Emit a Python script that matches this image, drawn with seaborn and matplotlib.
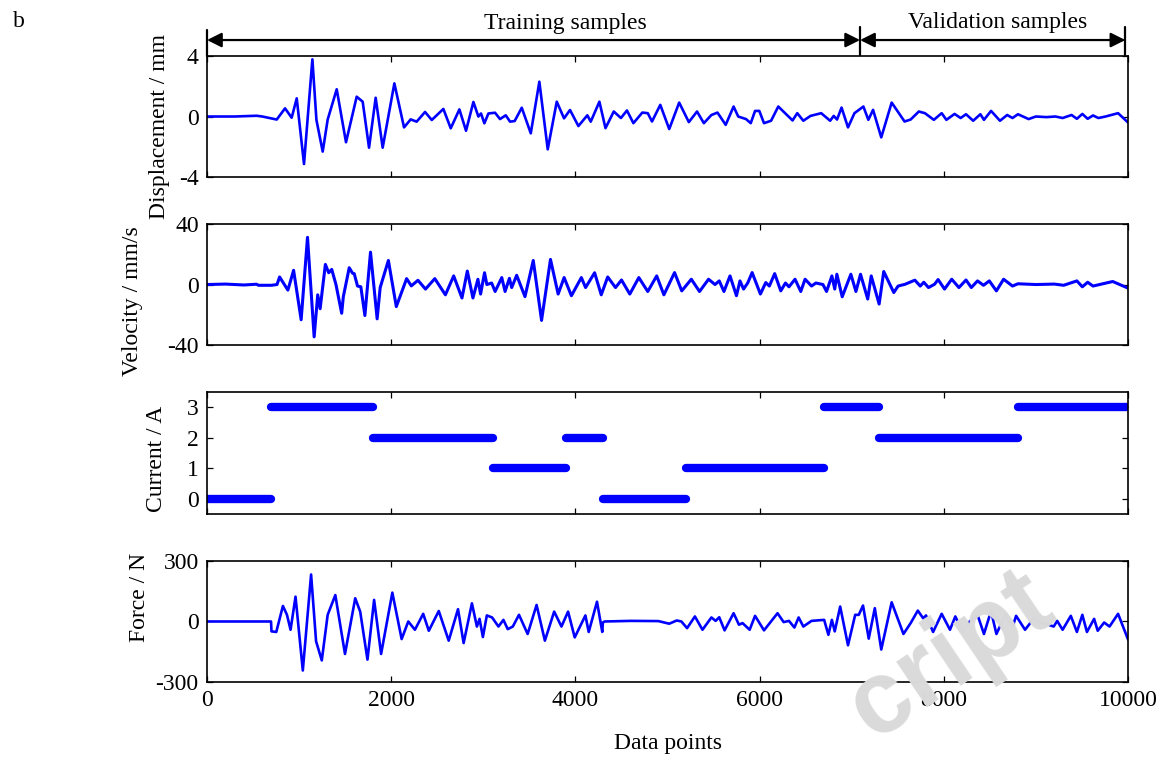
import matplotlib
matplotlib.use("Agg")
import matplotlib.pyplot as plt
import seaborn as sns
import numpy as np

# ---------------- data ----------------
disp_pts = [(0, 0), (300, 0.0), (540, 0.05), (600, 0.0), (757, -0.2), (847, 0.54), (919, -0.08),
            (974, 1.2), (1053, -3.14), (1144, 3.78), (1188, -0.23), (1256, -2.32), (1310, -0.2),
            (1408, 1.8), (1509, -1.7), (1625, 1.31), (1690, 0.98), (1759, -2.06), (1831, 1.24),
            (1907, -2.06), (2034, 2.19), (2139, -0.72), (2211, -0.19), (2276, -0.34), (2367, 0.3),
            (2440, -0.23), (2566, 0.5), (2646, -0.78), (2740, 0.47), (2812, -0.94), (2892, 0.96),
            (2946, 0.0), (2975, 0.2), (3011, -0.45), (3055, 0.2), (3127, 0.25), (3181, -0.17),
            (3243, 0.08), (3290, -0.34), (3340, -0.3), (3417, 0.58), (3515, -1.11), (3608, 2.3),
            (3699, -2.17), (3797, 0.98), (3876, -0.12), (3941, 0.43), (4032, -0.63), (4129, 0.08),
            (4166, -0.34), (4260, 0.98), (4326, -0.77), (4416, 0.33), (4494, -0.1), (4559, 0.4),
            (4629, -0.44), (4726, 0.26), (4785, 0.22), (4831, -0.33), (4921, 0.77), (5018, -0.83),
            (5126, 0.92), (5231, -0.37), (5320, 0.33), (5394, -0.44), (5476, 0.1), (5542, 0.26),
            (5631, -0.55), (5717, 0.66), (5767, 0.0), (5852, -0.17), (5903, -0.44), (5950, 0.37),
            (5996, 0.37), (6047, -0.44), (6124, -0.28), (6202, 0.66), (6357, -0.26), (6408, 0.22),
            (6474, -0.28), (6552, 0.04), (6668, 0.22), (6765, -0.28), (6804, 0.04), (6840, -0.2),
            (6889, 0.59), (6959, -0.72), (7029, 0.22), (7126, 0.66), (7180, -0.22), (7231, 0.44),
            (7320, -1.38), (7433, 0.92), (7573, -0.33), (7639, -0.2), (7728, 0.33), (7794, 0.22),
            (7891, -0.22), (7976, 0.22), (8027, -0.22), (8116, 0.17), (8182, -0.1), (8240, 0.15),
            (8318, -0.28), (8396, 0.15), (8435, -0.22), (8512, 0.37), (8609, -0.28), (8687, 0.1),
            (8745, -0.1), (8804, 0.15), (8920, -0.17), (8998, 0.0), (9114, -0.04), (9211, 0.0),
            (9289, -0.1), (9386, 0.1), (9444, -0.15), (9503, 0.17), (9561, -0.15), (9619, 0.07),
            (9677, -0.1), (9755, 0.0), (9891, 0.22), (10000, -0.4)]

vel_pts = [(0, 0), (200, 0.3), (400, -0.3), (536, 0.2), (560, -0.5), (700, -0.5), (760, 0),
           (788, 5.0), (878, -3.7), (940, 9.4), (1022, -23.3), (1091, 31.2), (1163, -34.6),
           (1202, -6.8), (1228, -16), (1285, 13.3), (1321, 7.8), (1354, 10), (1400, 0), (1462, -19),
           (1480, -8), (1544, 11.1), (1580, 7.5), (1598, 7.2), (1634, -1), (1670, -1.5), (1714, -20.5),
           (1775, 21.4), (1847, -22.7), (1880, -2), (1969, 15.9), (2055, -14.6), (2167, 3.9),
           (2218, -0.9), (2290, 2.8), (2372, -3), (2473, 3.9), (2588, -6.8), (2678, 5.7), (2768, -8.9),
           (2826, 8.9), (2887, -8.9), (2941, 3.5), (2970, -6.3), (3013, 7.8), (3038, 0), (3090, 1),
           (3128, -4.6), (3200, 4.6), (3236, -4.6), (3283, 4.1), (3308, -2), (3362, 6.1), (3452, -8),
           (3542, 15.9), (3632, -23.7), (3729, 16.6), (3812, -6.3), (3877, 4.6), (3956, -7.4),
           (4064, 4.6), (4110, -2), (4208, 7.8), (4280, -6.8), (4350, 5), (4435, -2), (4500, 3),
           (4590, -6.3), (4688, 4.6), (4785, -4.6), (4882, 5.7), (4960, -6.8), (5076, 7.9),
           (5154, -4.2), (5258, 3.5), (5347, -4.6), (5445, 3.5), (5515, 0), (5561, 2.4), (5612, -4.6),
           (5678, 5.7), (5748, -7.4), (5786, 2.4), (5825, -3), (5870, 1), (5918, 7.9), (6008, -6.3),
           (6066, 1.3), (6105, -1), (6163, 7.2), (6229, -4.2), (6280, 1), (6318, -1.5), (6384, 3.5),
           (6446, -4.6), (6493, 3.5), (6563, -1), (6610, 1), (6687, 0), (6726, -4.6), (6784, 5.7),
           (6815, -3), (6838, 6.8), (6896, -8.1), (6990, 6.8), (7045, -4.6), (7095, 6.8), (7173, -9.6),
           (7211, 5.7), (7297, -12.9), (7347, 8.6), (7456, -5.3), (7503, -1), (7580, 0.2), (7685, 2.9),
           (7743, -1), (7782, 1.5), (7833, -2), (7899, 0.2), (7937, 3.3), (8007, -3), (8085, 3.5),
           (8163, -2), (8240, 3), (8298, -2), (8365, 2.4), (8430, -0.5), (8493, 2.4), (8570, -4.2),
           (8648, 3.5), (8745, -1), (8804, 0.5), (9000, 0), (9200, 0.3), (9300, -0.5), (9444, 2.4),
           (9503, -1.5), (9561, 1.5), (9619, -1), (9833, 2), (10000, -2.4)]

cur_start = [0, 700, 1800, 3100, 3900, 4300, 5200, 6700, 7300, 8800]
cur_end = [700, 1800, 3100, 3900, 4300, 5200, 6700, 7300, 8800, 10000]
cur_level = [0, 3, 2, 1, 2, 0, 1, 3, 2, 3]

force_pts = [(0, 0), (695, 0), (700, -49), (752, -52), (824, 77), (868, 33), (907, -41), (961, 123),
             (1040, -243), (1130, 233), (1184, -98), (1246, -193), (1310, 33), (1393, 131),
             (1498, -161), (1609, 115), (1663, 49), (1742, -189), (1814, 107), (1890, -161),
             (2012, 143), (2113, -87), (2185, 0), (2257, -41), (2347, 38), (2408, -46), (2516, 52),
             (2624, -95), (2725, 61), (2786, -107), (2876, 90), (2930, -25), (2959, 13), (2995, -77),
             (3038, 30), (3095, 20), (3164, -25), (3218, 8), (3265, -38), (3320, -25), (3387, 33),
             (3481, -62), (3578, 82), (3668, -95), (3769, 49), (3848, -25), (3920, 49), (3992, -79),
             (4108, 30), (4144, -52), (4234, 98), (4291, -52), (4298, -5), (4316, 0), (4600, 3),
             (4900, 2), (5018, -11), (5100, 5), (5150, 0), (5212, -33), (5297, 25), (5379, -41),
             (5476, 20), (5522, 3), (5561, 21), (5619, -44), (5717, 41), (5775, -16), (5814, -8),
             (5891, -41), (5950, 28), (6047, -44), (6194, 41), (6260, -3), (6318, 3), (6377, -30),
             (6423, 20), (6474, -25), (6563, 3), (6700, 8), (6746, -66), (6784, 8), (6815, -49),
             (6874, 74), (6959, -118), (7037, 33), (7076, 33), (7122, 79), (7184, -85), (7250, 66),
             (7320, -139), (7433, 95), (7561, -62), (7639, -8), (7717, 54), (7775, 16), (7806, 30),
             (7883, -52), (7976, 38), (8066, -41), (8124, 25), (8202, -49), (8280, 0), (8365, 33),
             (8435, -62), (8512, 52), (8570, -62), (8668, 33), (8745, -28), (8784, 28), (8881, -41),
             (8978, 16), (9056, -8), (9134, -16), (9192, -25), (9230, 3), (9289, -41), (9378, 28),
             (9444, -52), (9503, 33), (9553, -52), (9631, 13), (9670, -46), (9740, -5), (9798, -25),
             (9891, 38), (10000, -90)]

x_ticks = [0, 2000, 4000, 6000, 8000, 10000]
y_labels = ["Displacement / mm", "Velocity / mm/s", "Current / A", "Force / N"]
y_limits = [(-4, 4), (-40, 40), (-0.5, 3.5), (-300, 300)]
y_ticks = [[-4, 0, 4], [-40, 0, 40], [0, 1, 2, 3], [-300, 0, 300]]
split_points = [0, 7090, 9970]
segment_names = ["Training samples", "Validation samples"]

# ---------------- styling ----------------
sns.set_theme(style="white")
plt.rcParams["font.family"] = ["Liberation Serif", "DejaVu Serif"]
plt.rcParams["axes.unicode_minus"] = False
plt.rcParams["axes.edgecolor"] = "black"

FS = 17
fig = plt.figure(figsize=(11.63, 7.62), dpi=100)

left, width = 0.178, 0.792
bottoms = [0.7677, 0.5472, 0.3255, 0.105]
heights = [0.1588, 0.1588, 0.160, 0.1588]
label_xy = [(-0.040, 0.42), (-0.070, 0.36), (-0.043, 0.45), (-0.062, 0.70)]

axes = []
for i in range(4):
    ax = fig.add_axes([left, bottoms[i], width, heights[i]])
    ax.set_facecolor("none")
    axes.append(ax)

blue = "#0000FF"
series = [disp_pts, vel_pts, None, force_pts]
for i, ax in enumerate(axes):
    if series[i] is not None:
        xs = [p[0] for p in series[i]]
        ys = [p[1] for p in series[i]]
        sns.lineplot(x=xs, y=ys, ax=ax, color=blue, lw=1.9 if i != 1 else 2.2,
                     sort=False, estimator=None)
    else:
        for s, e, lv in zip(cur_start, cur_end, cur_level):
            sns.lineplot(x=[s, e], y=[lv, lv], ax=ax, color=blue, lw=6.0,
                         sort=False, estimator=None, solid_capstyle="round")
    ax.set_xlim(0, 10000)
    ax.set_ylim(*y_limits[i])
    ax.set_yticks(y_ticks[i])
    ax.set_xticks(x_ticks)
    ax.tick_params(direction="in", top=True, right=True, bottom=True, left=True,
                   length=4, width=0.9, labelsize=FS, pad=6, colors="black")
    for sp in ax.spines.values():
        sp.set_color("black")
        sp.set_linewidth(1.2)
    if i < 3:
        ax.set_xticklabels([])
    ax.set_ylabel(y_labels[i], fontsize=FS, color="black")
    ax.yaxis.set_label_coords(*label_xy[i])
    ax.grid(False)

axes[3].set_xlabel("Data points", fontsize=FS, color="black")
axes[3].xaxis.set_label_coords(0.5, -0.42)

# ---------------- sample-range arrows ----------------
top = axes[0]
tr = top.get_xaxis_transform()
arrow_y = 1.132
for a, b in zip(split_points[:-1], split_points[1:]):
    top.annotate("", xy=(a, arrow_y), xytext=(b, arrow_y), xycoords=tr, textcoords=tr,
                 arrowprops=dict(arrowstyle="<|-|>", color="black", lw=1.6,
                                 mutation_scale=22, shrinkA=0, shrinkB=0),
                 annotation_clip=False)
bar_spans = [(1.0, 1.215), (1.008, 1.24), (1.008, 1.24)]
for xp, (y0, y1) in zip(split_points, bar_spans):
    top.plot([xp, xp], [y0, y1], transform=tr, color="black", lw=1.6, clip_on=False)
top.text(3887, 1.27, segment_names[0], transform=tr, ha="center", va="center",
         fontsize=FS, color="black")
top.text(8578, 1.28, segment_names[1], transform=tr, ha="center", va="center",
         fontsize=FS, color="black")

# panel letter and faint watermark
fig.text(0.011, 0.972, "b", fontsize=FS, ha="left", va="center", color="black")
fig.text(0.818, 0.138, "cript", fontsize=74, rotation=34, color="#dadada",
         ha="center", va="center", weight="bold", family="Liberation Sans", zorder=0)

fig.savefig("out.png", dpi=100)
